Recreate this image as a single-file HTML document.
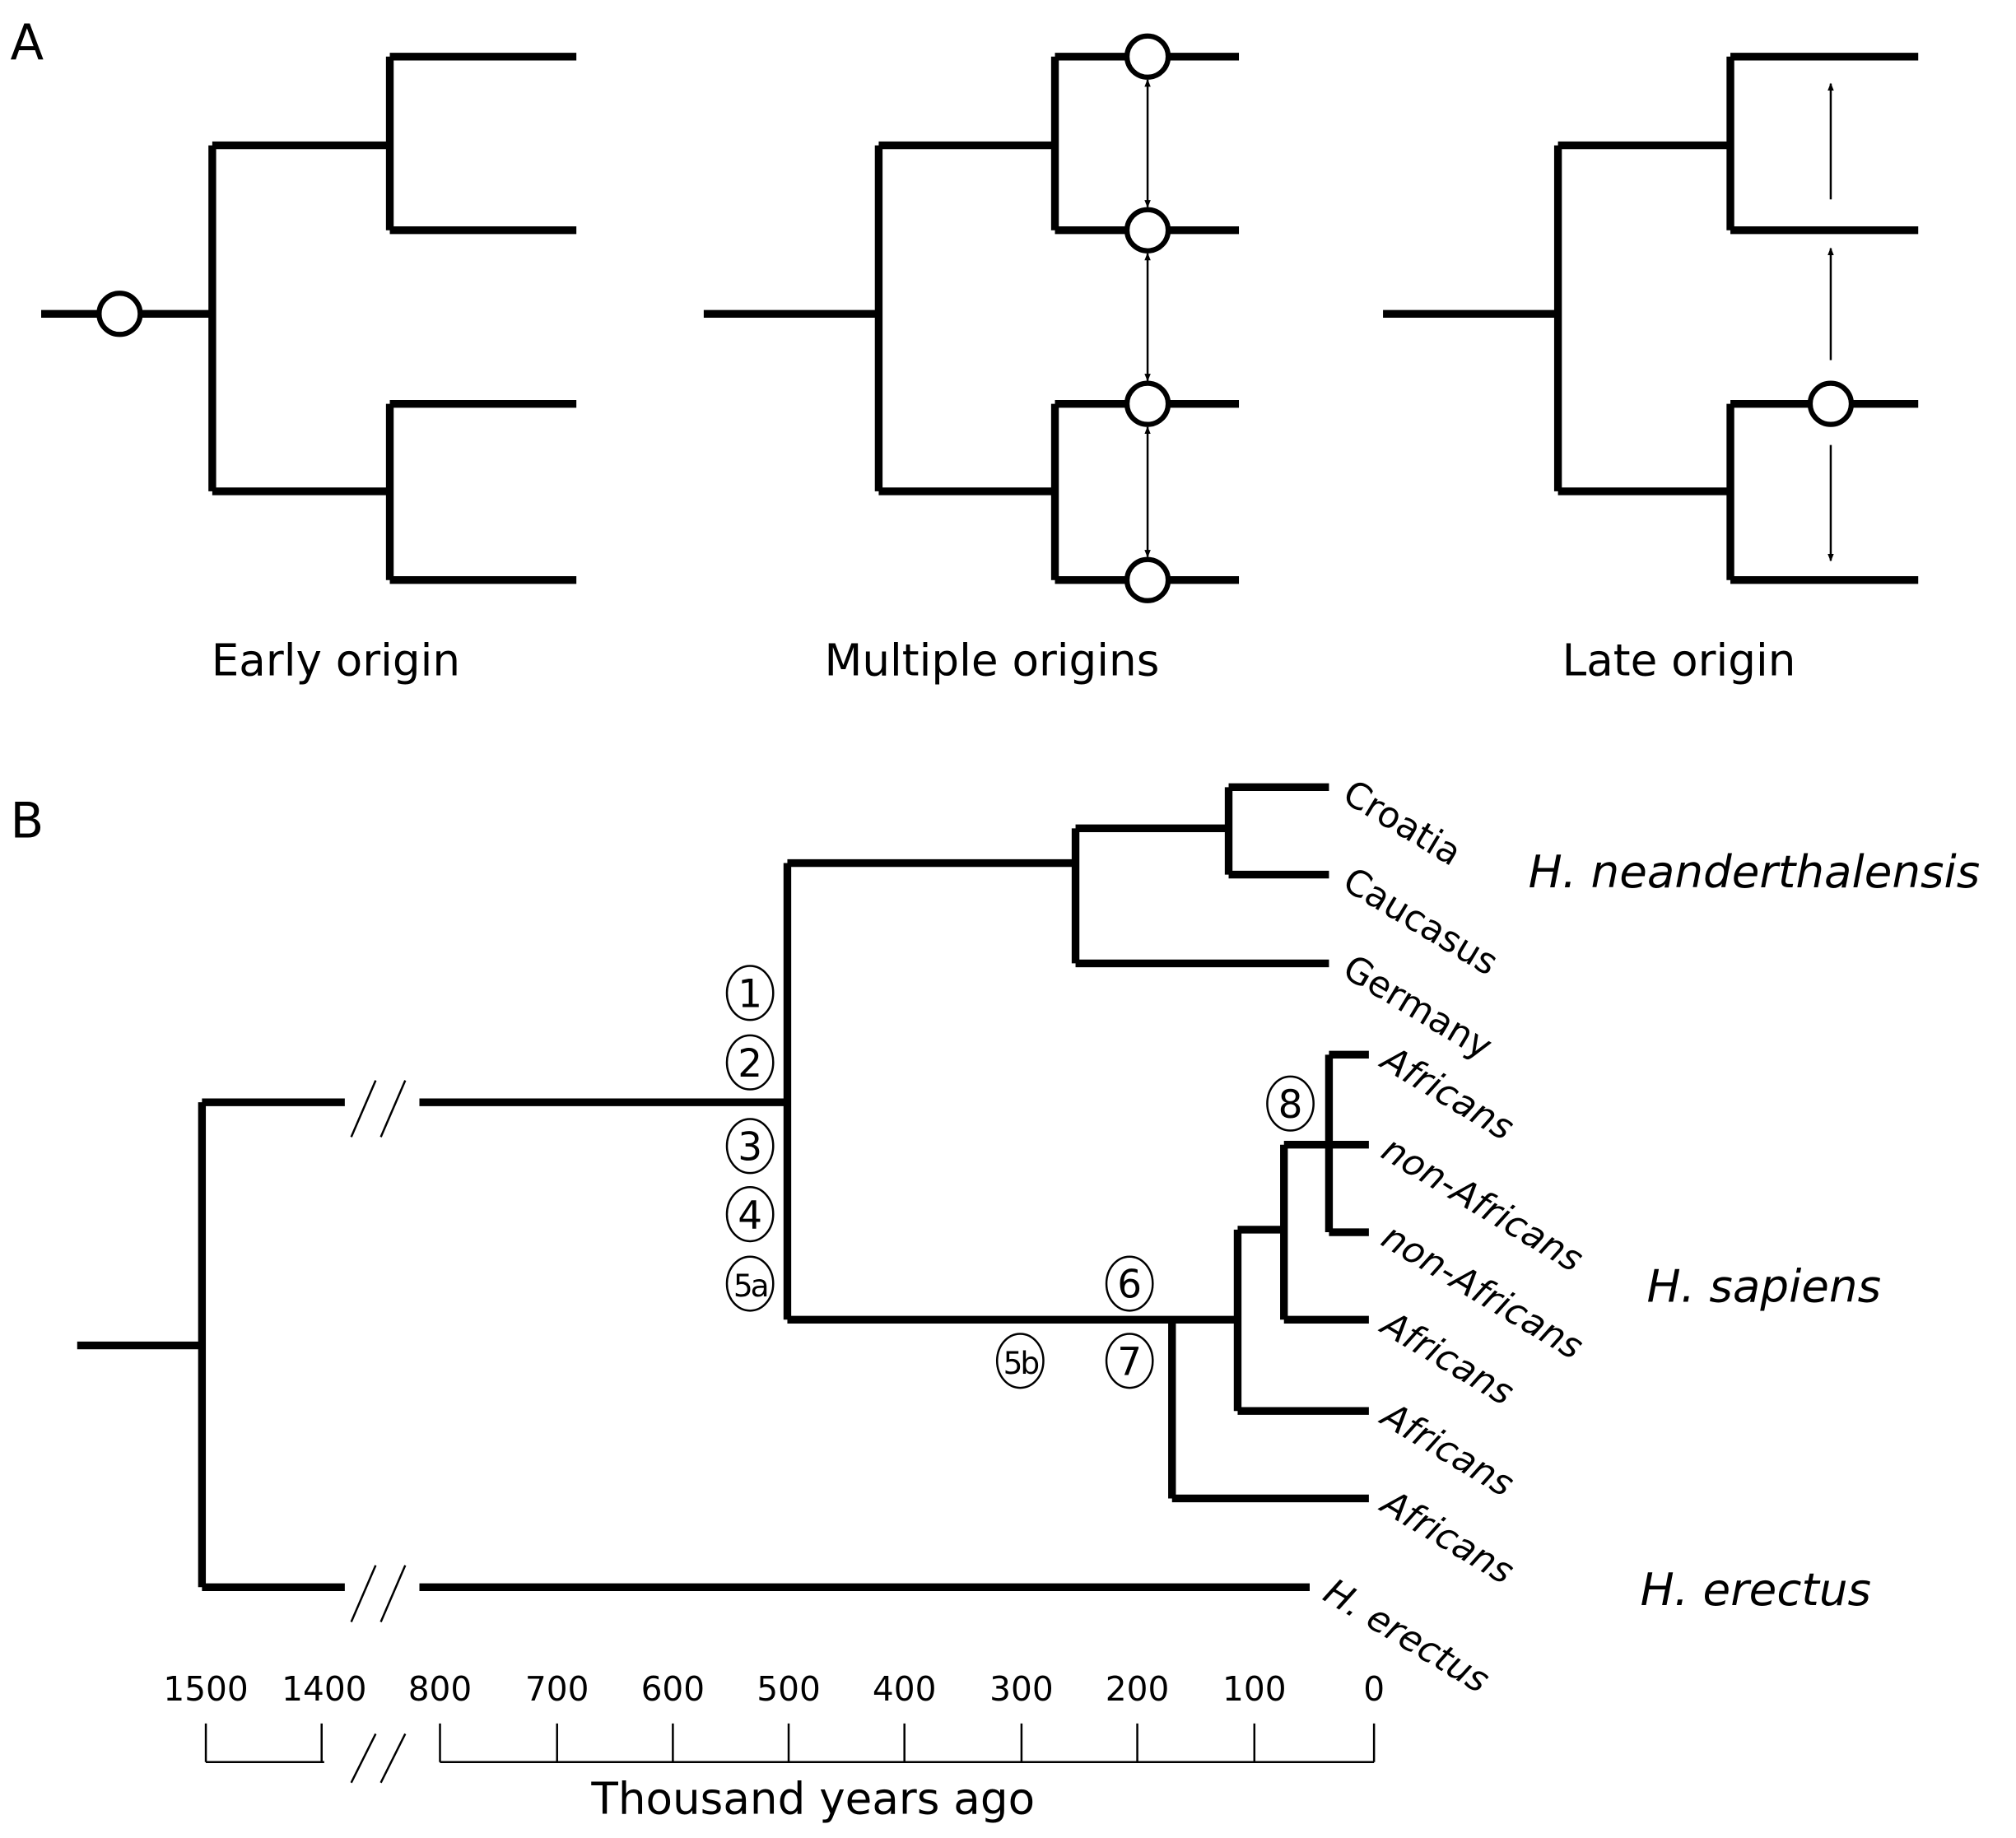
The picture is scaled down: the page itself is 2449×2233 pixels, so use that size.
<!DOCTYPE html>
<html><head><meta charset="utf-8"><style>
html,body{margin:0;padding:0;background:#fff;}
svg{display:block;}
text{font-family:"DejaVu Sans","Liberation Sans",sans-serif;fill:#000;}
</style></head><body>
<svg width="2449" height="2233" viewBox="0 0 1567 1429" preserveAspectRatio="none" xmlns="http://www.w3.org/2000/svg">
<defs>
<marker id="ah" viewBox="0 0 10 10" refX="9" refY="5" markerWidth="6" markerHeight="8" orient="auto-start-reverse" markerUnits="userSpaceOnUse">
<path d="M0,1 L10,5 L0,9 Z" fill="#000"/>
</marker>
</defs>
<g fill="none" stroke="#000" stroke-width="6" stroke-linecap="butt">
<!-- Tree A1 -->
<path d="M32,244 H165 M165,113 V382 M165,113 H303 M165,382 H303 M303,44 V179 M303,314 V451 M303,44 H448 M303,179 H448 M303,314 H448 M303,451 H448"/>
<!-- Tree A2 -->
<path d="M547,244 H683 M683,113 V382 M683,113 H820 M683,382 H820 M820,44 V179 M820,314 V451 M820,44 H963 M820,179 H963 M820,314 H963 M820,451 H963"/>
<!-- Tree A3 -->
<path d="M1075,244 H1211 M1211,113 V382 M1211,113 H1345 M1211,382 H1345 M1345,44 V179 M1345,314 V451 M1345,44 H1491 M1345,179 H1491 M1345,314 H1491 M1345,451 H1491"/>
<!-- Tree B -->
<path d="M60,1046 H157 M157,857 V1234 M157,857 H268 M326,857 H612 M157,1234 H268 M326,1234 H1018 M612,671 V1026 M612,671 H836 M836,644 V749 M836,644 H955 M955,612 V680 M955,612 H1033 M955,680 H1033 M836,749 H1033 M612,1026 H962 M911,1026 V1165 M911,1165 H1064 M962,956 V1097 M962,1097 H1064 M962,956 H998 M998,890 V1026 M998,1026 H1064 M998,890 H1064 M1033,820 V958 M1033,820 H1064 M1033,958 H1064"/>
</g>
<g fill="#fff" stroke="#000" stroke-width="4">
<circle cx="93" cy="244" r="16"/>
<circle cx="892" cy="44" r="16"/><circle cx="892" cy="179" r="16"/><circle cx="892" cy="314" r="16"/><circle cx="892" cy="451" r="16"/>
<circle cx="1423" cy="314" r="16"/>
</g>
<g stroke="#000" stroke-width="1.6" fill="none">
<line x1="892" y1="62" x2="892" y2="161" marker-start="url(#ah)" marker-end="url(#ah)"/>
<line x1="892" y1="197" x2="892" y2="296" marker-start="url(#ah)" marker-end="url(#ah)"/>
<line x1="892" y1="332" x2="892" y2="433" marker-start="url(#ah)" marker-end="url(#ah)"/>
<line x1="1423" y1="155" x2="1423" y2="65" marker-end="url(#ah)"/>
<line x1="1423" y1="280" x2="1423" y2="193" marker-end="url(#ah)"/>
<line x1="1423" y1="346" x2="1423" y2="436" marker-end="url(#ah)"/>
<!-- breaks -->
<path d="M273,884 L292,840 M296,884 L315,840 M273,1261 L292,1217 M296,1261 L315,1217 M273,1386 L292,1348 M296,1386 L315,1348"/>
<!-- axis -->
<path d="M160,1370 H252 M342,1370 H1068 M160,1340 V1370 M250,1340 V1370 M342,1340 V1370 M433,1340 V1370 M523,1340 V1370 M613,1340 V1370 M703,1340 V1370 M794,1340 V1370 M884,1340 V1370 M975,1340 V1370 M1068,1340 V1370"/>
</g>
<g fill="none" stroke="#000" stroke-width="1.6">
<ellipse cx="583" cy="772" rx="18" ry="21"/><ellipse cx="583" cy="826" rx="18" ry="21"/>
<ellipse cx="583" cy="891" rx="18" ry="21"/><ellipse cx="583" cy="944" rx="18" ry="21"/>
<ellipse cx="583" cy="998" rx="18" ry="21"/><ellipse cx="793" cy="1058" rx="18" ry="21"/>
<ellipse cx="878" cy="998" rx="18" ry="21"/><ellipse cx="878" cy="1058" rx="18" ry="21"/>
<ellipse cx="1003" cy="858" rx="18" ry="21"/>
</g>
<g font-size="30" text-anchor="middle">
<text x="583" y="783">1</text><text x="583" y="837">2</text><text x="583" y="902">3</text>
<text x="583" y="955">4</text><text x="583" y="1008" font-size="24" letter-spacing="-2">5a</text>
<text x="793" y="1068" font-size="24" letter-spacing="-2">5b</text>
<text x="878" y="1009">6</text><text x="878" y="1069">7</text><text x="1003" y="869">8</text>
</g>
<text x="8" y="46" font-size="38">A</text>
<text x="8" y="651" font-size="38">B</text>
<g font-size="34" text-anchor="middle">
<text x="261" y="525">Early origin</text>
<text x="771" y="525">Multiple origins</text>
<text x="1305" y="525">Late origin</text>
<text x="632" y="1410">Thousand years ago</text>
</g>
<g font-size="26" text-anchor="middle">
<text x="160" y="1322">1500</text><text x="252" y="1322">1400</text><text x="342" y="1322">800</text>
<text x="433" y="1322">700</text><text x="523" y="1322">600</text><text x="613" y="1322">500</text>
<text x="703" y="1322">400</text><text x="794" y="1322">300</text><text x="884" y="1322">200</text>
<text x="975" y="1322">100</text><text x="1068" y="1322">0</text>
</g>
<g font-size="28">
<text transform="translate(1042,622) rotate(31)">Croatia</text>
<text transform="translate(1042,690) rotate(31)">Caucasus</text>
<text transform="translate(1042,758) rotate(31)">Germany</text>
<text transform="translate(1072,829) rotate(31)" font-style="italic">Africans</text>
<text transform="translate(1072,899) rotate(31)" font-style="italic">non-Africans</text>
<text transform="translate(1072,967) rotate(31)" font-style="italic">non-Africans</text>
<text transform="translate(1072,1035) rotate(31)" font-style="italic">Africans</text>
<text transform="translate(1072,1106) rotate(31)" font-style="italic">Africans</text>
<text transform="translate(1072,1174) rotate(31)" font-style="italic">Africans</text>
<text transform="translate(1027,1243) rotate(31)" font-style="italic">H. erectus</text>
</g>
<g font-size="35" font-style="italic">
<text x="1188" y="690">H. neanderthalensis</text>
<text x="1280" y="1012">H. sapiens</text>
<text x="1275" y="1248">H. erectus</text>
</g>
</svg>
</body></html>
